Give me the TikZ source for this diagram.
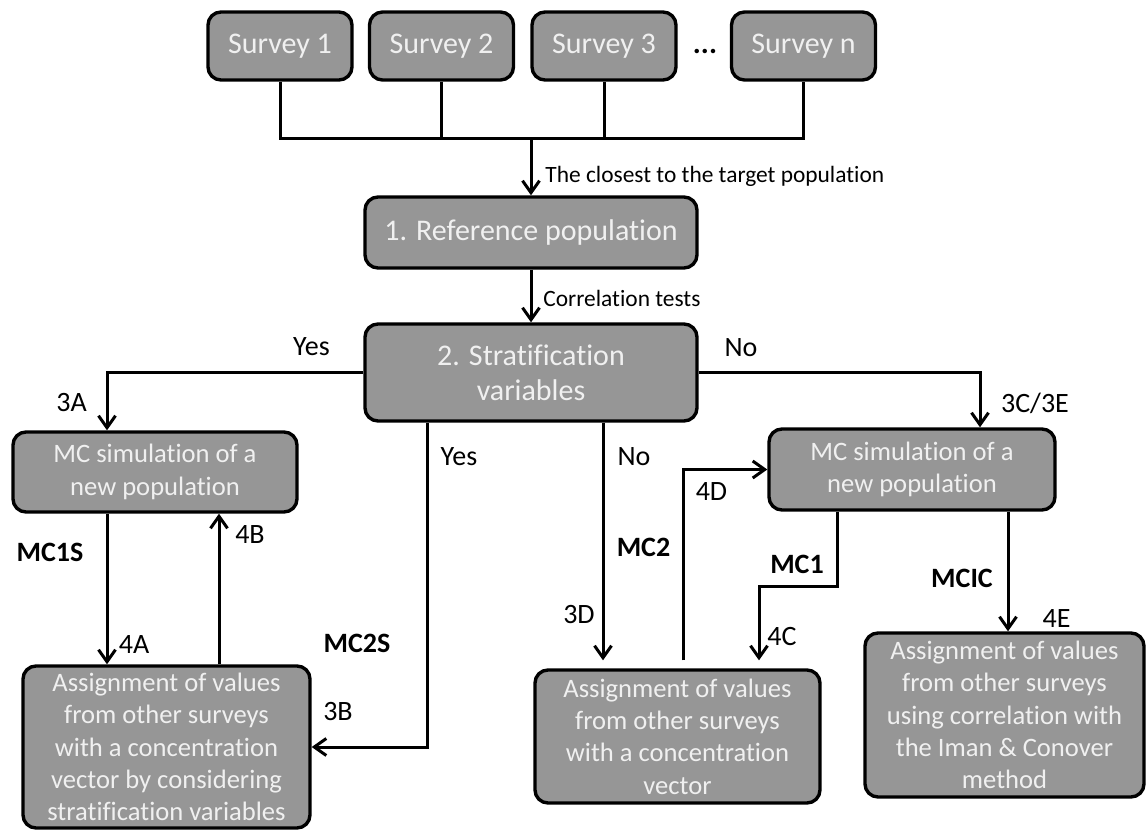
\documentclass[tikz,border=0pt]{standalone}
\usepackage{fontspec}
\setmainfont{Carlito}[Ligatures=NoCommon]
\usepackage{xcolor}
\usetikzlibrary{arrows.meta,positioning}
\definecolor{boxgray}{RGB}{150,150,150}
\definecolor{boxtext}{RGB}{240,240,240}

\begin{document}
\begin{tikzpicture}[
    x=0.5pt, y=-0.5pt,
    survey/.style={draw, line width=1.7pt, rounded corners=6.5pt, fill=boxgray, text=boxtext, minimum width=72pt, minimum height=34pt, font=\fontsize{15}{18}\selectfont},
    decision/.style={survey, minimum width=166pt, align=center, font=\fontsize{15}{17.5}\selectfont},
    block/.style={draw, line width=1.7pt, rounded corners=6.5pt, fill=boxgray, text=boxtext, align=center, inner sep=1pt, font=\fontsize{13.3}{16.2}\selectfont},
    wire/.style={line width=1.5pt},
    arrow/.style={wire, -{Straight Barb[length=6pt,width=8.5pt]}},
    tag/.style={font=\fontsize{14}{16}\selectfont},
    btag/.style={font=\fontsize{14}{16}\selectfont\bfseries},
    note/.style={anchor=base west, inner sep=0pt, font=\fontsize{11.7}{14}\selectfont}
  ]
    \useasboundingbox (0,0) rectangle (1147,830);

    \node[survey] (survey1) at (280,46) {Survey 1};
    \node[survey] (survey2) at (441.5,46) {Survey 2};
    \node[survey] (survey3) at (604,46) {Survey 3};
    \node[font=\fontsize{15}{18}\selectfont\bfseries] (dots) at (705,51) {...};
    \node[survey] (surveyn) at (803.5,46) {Survey n};
    \node[decision, minimum height=35.5pt] (refpop) at (531,232.5) {1. Reference population};
    \node[decision, minimum height=48.5pt] (strat) at (531,372.5) {2. Stratification\\variables};
    \node[block, minimum width=142pt, minimum height=40pt] (simL) at (155,472) {MC simulation of a\\new population};
    \node[block, minimum width=143pt, minimum height=40.5pt] (simR) at (912,469.5) {MC simulation of a\\new population};
    \node[block, minimum width=143.5pt, minimum height=81pt] (assignL) at (166.5,747) {Assignment of values\\from other surveys\\with a concentration\\vector by considering\\stratification variables};
    \node[block, minimum width=142.5pt, minimum height=66.5pt] (assignM) at (677.5,736.5) {Assignment of values\\from other surveys\\with a concentration\\vector};
    \node[block, minimum width=139.5pt, minimum height=82pt] (assignR) at (1004.5,715) {Assignment of values\\from other surveys\\using correlation with\\the Iman \& Conover\\method};

    \coordinate (bus) at (531,138);
    \draw[wire] (survey1.south) |- (bus -| surveyn.south) -- (surveyn.south);
    \draw[wire] (survey2.south) -- (survey2.south |- bus);
    \draw[wire] (survey3.south) -- (survey3.south |- bus);
    \draw[arrow] (bus) -- (refpop.north);
    \node[note] (closest) at (545,182.5) {The closest to the target population};
    \draw[arrow] (refpop.south) -- (strat.north);
    \node[note] (corr) at (543,306) {Correlation tests};

    \draw[arrow] (strat.west) -| ([xshift=-24pt]simL.north);
    \draw[arrow] (strat.east) -| ([xshift=34pt]simR.north);
    \draw[arrow] ([xshift=-52pt]strat.south) |- (assignL.east);
    \draw[arrow, shorten >=4pt] ([xshift=36pt]strat.south) -- ([xshift=36pt]strat.south |- assignM.north);
    \draw[arrow, shorten <=4pt] ([xshift=2.75pt]assignM.north) |- (simR.west);
    \coordinate (bend) at (759,586);
    \draw[arrow, shorten >=4pt] ([xshift=-37.5pt]simR.south) |- (bend) -- (bend |- assignM.north);
    \draw[arrow] ([xshift=48pt]simR.south) -- ([xshift=48pt]simR.south |- assignR.north);
    \draw[arrow] ([xshift=-24pt]simL.south) -- ([xshift=-24pt]simL.south |- assignL.north);
    \draw[arrow] ([xshift=32pt]simL.south |- assignL.north) -- ([xshift=32pt]simL.south);

    \node[tag] (yesA) at (311.5,347) {Yes};
    \node[tag] (noA) at (741,348) {No};
    \node[tag] (lab3A) at (71.5,403) {3A};
    \node[tag] (lab3CE) at (1035,403) {3C/3E};
    \node[tag] (yesB) at (459,457) {Yes};
    \node[tag] (noB) at (634,457) {No};
    \node[btag] (mc1s) at (50,552) {MC1S};
    \node[tag] (lab4B) at (250,535) {4B};
    \node[tag] (lab4A) at (134,645) {4A};
    \node[btag] (mc2s) at (357,643) {MC2S};
    \node[tag] (lab3B) at (338,712) {3B};
    \node[btag] (mc2) at (643.5,547) {MC2};
    \node[tag] (lab3D) at (579,615) {3D};
    \node[tag] (lab4D) at (711.5,492) {4D};
    \node[btag] (mc1) at (797,564) {MC1};
    \node[tag] (lab4C) at (782,637) {4C};
    \node[btag] (mcic) at (962,578) {MCIC};
    \node[tag] (lab4E) at (1056.5,619) {4E};
  \end{tikzpicture}
\end{document}
